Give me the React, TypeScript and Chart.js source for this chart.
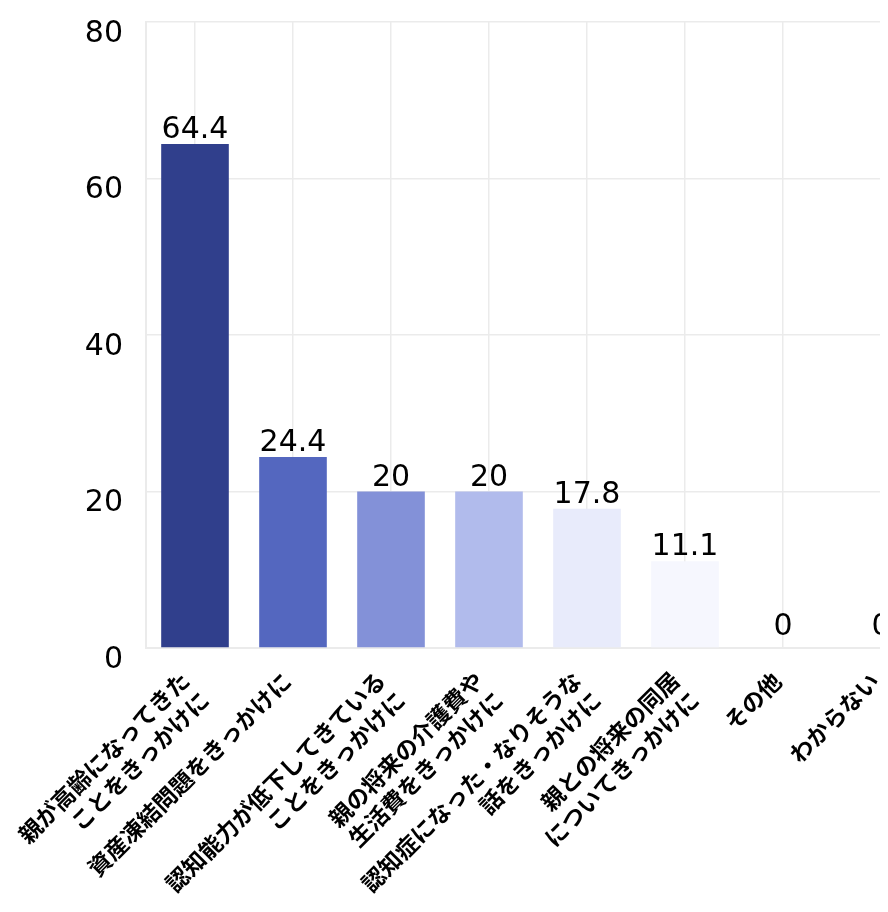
import React, { useEffect, useRef } from "react";
import { Chart, registerables } from "chart.js";

Chart.register(...registerables);

const categories: (string | string[])[] = [
  ["親が高齢になってきた", "ことをきっかけに"],
  "資産凍結問題をきっかけに",
  ["認知能力が低下してきている", "ことをきっかけに"],
  ["親の将来の介護費や", "生活費をきっかけに"],
  ["認知症になった・なりそうな", "話をきっかけに"],
  ["親との将来の同居", "についてきっかけに"],
  "その他",
  "わからない",
];
const values = [64.4, 24.4, 20, 20, 17.8, 11.1, 0, 0];
const barColors = ["#303f8c", "#5467bf", "#8391d8", "#b1bbec", "#e8ebfb", "#f6f7fe", "#ffffff", "#ffffff"];
const yMin = 0;
const yMax = 80;
const yStep = 20;

const JP_FONT = "'Noto Sans CJK JP', 'Noto Sans', sans-serif";
const NUM_FONT = "'DejaVu Sans', sans-serif";

const valueLabels = {
  id: "valueLabels",
  afterDatasetsDraw(chart: any) {
    const ctx = chart.ctx;
    const meta = chart.getDatasetMeta(0);
    ctx.save();
    ctx.font = `30px ${NUM_FONT}`;
    ctx.fillStyle = "#000";
    ctx.textAlign = "center";
    ctx.textBaseline = "alphabetic";
    meta.data.forEach((bar: any, i: number) => {
      const v = values[i];
      const gap = v === 0 ? 13 : 6;
      ctx.fillText(String(v), bar.x, bar.y - gap);
    });
    ctx.restore();
  },
};

const xLabels = {
  id: "xLabels",
  afterDraw(chart: any) {
    const ctx = chart.ctx;
    const xs = chart.scales.x;
    const lh = 28;
    ctx.save();
    ctx.font = `bold 23px ${JP_FONT}`;
    ctx.fillStyle = "#000";
    ctx.textAlign = "right";
    ctx.textBaseline = "middle";
    categories.forEach((lab, i) => {
      const lines = Array.isArray(lab) ? lab : [lab];
      const n = lines.length;
      const x = xs.getPixelForTick(i) - 6 + (n - 1) * 6;
      const y = xs.top + 29 + (n - 1) * 9;
      ctx.save();
      ctx.translate(x, y);
      ctx.rotate(-Math.PI / 4);
      lines.forEach((ln, j) => ctx.fillText(ln, 0, (j - (n - 1) / 2) * lh));
      ctx.restore();
    });
    ctx.restore();
  },
};

export default function App() {
  const ref = useRef<HTMLCanvasElement | null>(null);
  useEffect(() => {
    if (!ref.current) return;
    const chart = new Chart(ref.current, {
      type: "bar",
      data: {
        labels: categories,
        datasets: [
          {
            data: values,
            backgroundColor: barColors,
            borderWidth: 0,
            categoryPercentage: 1,
            barPercentage: 0.69,
          },
        ],
      },
      options: {
        animation: false,
        responsive: true,
        maintainAspectRatio: false,
        layout: { padding: { top: 14, left: 0, right: 0, bottom: 0 } },
        plugins: { legend: { display: false }, tooltip: { enabled: false } },
        scales: {
          x: {
            grid: { offset: false, color: "#ebebeb", lineWidth: 1.5, drawTicks: false },
            border: { color: "#ebebeb", width: 2 },
            ticks: { display: false, autoSkip: false },
            afterFit(scale: any) {
              scale.height = 264;
              scale.paddingLeft = 0;
              scale.paddingRight = 0;
            },
          },
          y: {
            min: yMin,
            max: yMax,
            grid: { color: "#ebebeb", lineWidth: 1.5, drawTicks: false },
            border: { color: "#ebebeb", width: 2 },
            ticks: {
              stepSize: yStep,
              padding: 23,
              color: "#000",
              font: { family: NUM_FONT, size: 30, lineHeight: "24px" },
              callback: (v: any) => ["", String(v)],
            },
            afterFit(scale: any) {
              scale.width = 138;
              scale.paddingTop = 14;
              scale.paddingBottom = 0;
            },
          },
        },
      },
      plugins: [valueLabels, xLabels],
    });
    return () => chart.destroy();
  }, []);

  return (
    <div style={{ width: 880, height: 904, overflow: "hidden", position: "relative" }}>
      <div style={{ position: "absolute", left: 0, top: 0, width: 922, height: 904 }}>
        <canvas ref={ref} />
      </div>
    </div>
  );
}
